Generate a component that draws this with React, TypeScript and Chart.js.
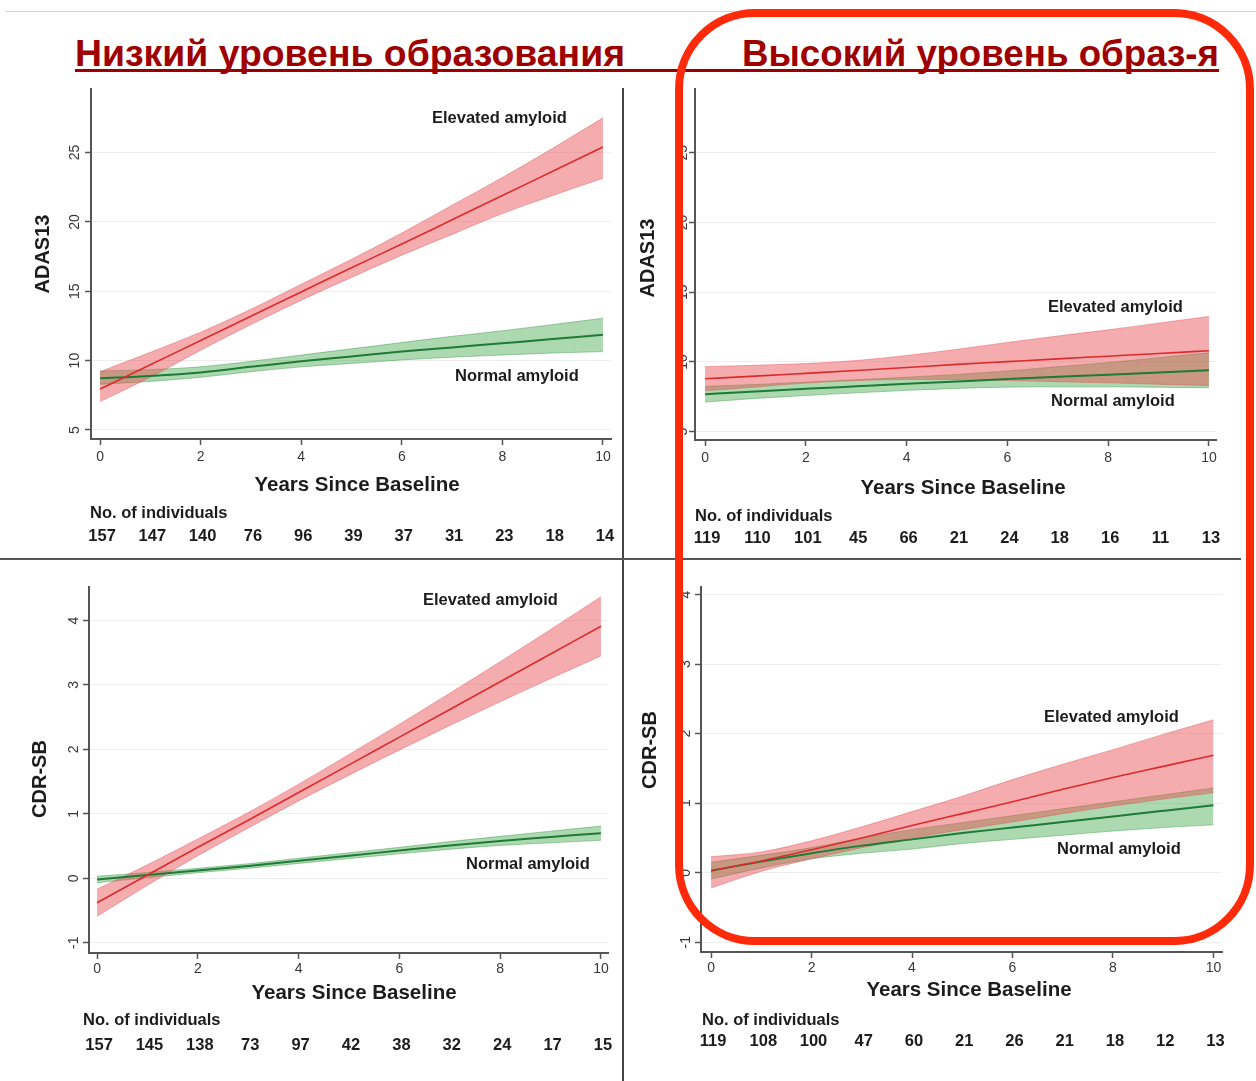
import React, { useEffect, useLayoutEffect, useRef } from 'react';
import { Chart, registerables } from 'chart.js';

Chart.register(...registerables);

// ---------------- DATA ----------------
const years = [0, 1, 2, 3, 4, 5, 6, 7, 8, 9, 10];
const xTickValues = [0, 2, 4, 6, 8, 10];
const adasTickValues = [5, 10, 15, 20, 25];
const cdrTickValues = [-1, 0, 1, 2, 3, 4];

const headingLow = 'Низкий уровень образования';
const headingHigh = 'Высокий уровень образ-я';
const elevLabel = 'Elevated amyloid';
const normLabel = 'Normal amyloid';
const xTitle = 'Years Since Baseline';
const countsTitle = 'No. of individuals';

// Top-left: ADAS13, low education
const adasLowElevMean = [7.95, 9.7, 11.45, 13.2, 14.95, 16.7, 18.4, 20.15, 21.9, 23.65, 25.4];
const adasLowElevUpper = [9.2, 10.6, 12.05, 13.7, 15.5, 17.3, 19.2, 21.2, 23.2, 25.3, 27.5];
const adasLowElevLower = [7.05, 8.8, 10.75, 12.6, 14.35, 16.0, 17.6, 19.1, 20.6, 21.9, 23.15];
const adasLowNormMean = [8.73, 8.9, 9.15, 9.55, 9.95, 10.3, 10.65, 10.95, 11.25, 11.55, 11.86];
const adasLowNormUpper = [9.25, 9.35, 9.55, 9.95, 10.4, 10.85, 11.3, 11.75, 12.15, 12.6, 13.05];
const adasLowNormLower = [8.3, 8.5, 8.8, 9.2, 9.55, 9.8, 10.05, 10.25, 10.4, 10.55, 10.65];
const adasLowCounts = [157, 147, 140, 76, 96, 39, 37, 31, 23, 18, 14];

// Top-right: ADAS13, high education
const adasHighElevMean = [8.79, 8.98, 9.18, 9.38, 9.6, 9.82, 10.02, 10.22, 10.41, 10.6, 10.8];
const adasHighElevUpper = [9.66, 9.76, 9.88, 10.1, 10.46, 10.9, 11.4, 11.86, 12.3, 12.78, 13.26];
const adasHighElevLower = [7.93, 8.2, 8.48, 8.66, 8.74, 8.74, 8.66, 8.58, 8.5, 8.4, 8.3];
const adasHighNormMean = [7.68, 7.88, 8.07, 8.25, 8.43, 8.6, 8.77, 8.93, 9.08, 9.24, 9.4];
const adasHighNormUpper = [8.24, 8.38, 8.55, 8.72, 8.9, 9.1, 9.35, 9.65, 9.95, 10.3, 10.65];
const adasHighNormLower = [7.12, 7.38, 7.59, 7.78, 7.96, 8.1, 8.19, 8.21, 8.21, 8.18, 8.15];
const adasHighCounts = [119, 110, 101, 45, 66, 21, 24, 18, 16, 11, 13];

// Bottom-left: CDR-SB, low education
const cdrLowElevMean = [-0.38, 0.05, 0.48, 0.9, 1.33, 1.76, 2.19, 2.62, 3.05, 3.48, 3.91];
const cdrLowElevUpper = [-0.17, 0.21, 0.61, 1.02, 1.46, 1.92, 2.39, 2.87, 3.36, 3.86, 4.37];
const cdrLowElevLower = [-0.59, -0.11, 0.35, 0.78, 1.2, 1.6, 1.99, 2.37, 2.74, 3.1, 3.45];
const cdrLowNormMean = [-0.02, 0.05, 0.12, 0.19, 0.27, 0.35, 0.43, 0.51, 0.58, 0.64, 0.7];
const cdrLowNormUpper = [0.03, 0.09, 0.155, 0.225, 0.31, 0.395, 0.48, 0.57, 0.65, 0.73, 0.81];
const cdrLowNormLower = [-0.07, 0.01, 0.085, 0.155, 0.23, 0.305, 0.38, 0.45, 0.51, 0.55, 0.59];
const cdrLowCounts = [157, 145, 138, 73, 97, 42, 38, 32, 24, 17, 15];

// Bottom-right: CDR-SB, high education
const cdrHighElevMean = [0.03, 0.17, 0.33, 0.5, 0.68, 0.85, 1.02, 1.2, 1.37, 1.53, 1.69];
const cdrHighElevUpper = [0.23, 0.3, 0.46, 0.66, 0.88, 1.1, 1.34, 1.56, 1.77, 1.99, 2.2];
const cdrHighElevLower = [-0.22, 0.02, 0.2, 0.36, 0.5, 0.62, 0.73, 0.85, 0.96, 1.06, 1.15];
const cdrHighNormMean = [0.03, 0.16, 0.28, 0.39, 0.48, 0.57, 0.65, 0.73, 0.81, 0.89, 0.97];
const cdrHighNormUpper = [0.15, 0.25, 0.36, 0.5, 0.62, 0.72, 0.82, 0.92, 1.02, 1.12, 1.22];
const cdrHighNormLower = [-0.09, 0.07, 0.2, 0.28, 0.34, 0.42, 0.48, 0.54, 0.6, 0.65, 0.69];
const cdrHighCounts = [119, 108, 100, 47, 60, 21, 26, 21, 18, 12, 13];

// ---------------- STYLE ----------------
const FONT = '"Liberation Sans", Arial, Helvetica, sans-serif';
const RED_LINE = '#DC2B2B';
const RED_EDGE = 'rgba(225, 80, 85, 0.55)';
const RED_FILL = 'rgba(232, 70, 75, 0.45)';
const GREEN_LINE = '#1E7A36';
const GREEN_EDGE = 'rgba(60, 150, 70, 0.55)';
const GREEN_FILL = 'rgba(60, 165, 70, 0.42)';
const AXIS_COLOR = '#555555';
const TEXT_COLOR = '#1c1c1c';
const TICK_TEXT = '#383838';
const HEAD_COLOR = '#9E0000';

type Series = {
  elevMean: number[]; elevUpper: number[]; elevLower: number[];
  normMean: number[]; normUpper: number[]; normLower: number[];
  counts: number[];
};

type PanelCfg = {
  id: string;
  box: { x: number; y: number; w: number; h: number };
  area: { l: number; t: number; r: number; b: number };
  xMin: number; xMax: number; yMin: number; yMax: number;
  yTicks: number[];
  yTickPad: number;
  xTickPad: number;
  yTitle: string;
  yTitlePos: [number, number];
  xTitlePos: [number, number];
  countsTitlePos: [number, number];
  countsY: number;
  elevPos: [number, number];
  normPos: [number, number];
  series: Series;
};

const panels: PanelCfg[] = [
  {
    id: 'tl',
    box: { x: 0, y: 80, w: 622, h: 478 },
    area: { l: 91, t: 89, r: 611, b: 439 },
    xMin: -0.18, xMax: 10.16, yMin: 4.35, yMax: 29.58,
    yTicks: adasTickValues, yTickPad: 2, xTickPad: 4,
    yTitle: 'ADAS13', yTitlePos: [43, 254],
    xTitlePos: [357, 485],
    countsTitlePos: [90, 513], countsY: 536,
    elevPos: [432, 118], normPos: [455, 376],
    series: {
      elevMean: adasLowElevMean, elevUpper: adasLowElevUpper, elevLower: adasLowElevLower,
      normMean: adasLowNormMean, normUpper: adasLowNormUpper, normLower: adasLowNormLower,
      counts: adasLowCounts,
    },
  },
  {
    id: 'tr',
    box: { x: 625, y: 80, w: 631, h: 478 },
    area: { l: 695, t: 89, r: 1216, b: 440 },
    xMin: -0.2, xMax: 10.14, yMin: 4.4, yMax: 29.57,
    yTicks: adasTickValues, yTickPad: -2, xTickPad: 4,
    yTitle: 'ADAS13', yTitlePos: [648, 258],
    xTitlePos: [963, 488],
    countsTitlePos: [695, 516], countsY: 538,
    elevPos: [1048, 307], normPos: [1051, 401],
    series: {
      elevMean: adasHighElevMean, elevUpper: adasHighElevUpper, elevLower: adasHighElevLower,
      normMean: adasHighNormMean, normUpper: adasHighNormUpper, normLower: adasHighNormLower,
      counts: adasHighCounts,
    },
  },
  {
    id: 'bl',
    box: { x: 0, y: 560, w: 622, h: 521 },
    area: { l: 89, t: 587, r: 608, b: 953 },
    xMin: -0.16, xMax: 10.14, yMin: -1.16, yMax: 4.52,
    yTicks: cdrTickValues, yTickPad: 3, xTickPad: 2,
    yTitle: 'CDR-SB', yTitlePos: [40, 779],
    xTitlePos: [354, 993],
    countsTitlePos: [83, 1020], countsY: 1045,
    elevPos: [423, 600], normPos: [466, 864],
    series: {
      elevMean: cdrLowElevMean, elevUpper: cdrLowElevUpper, elevLower: cdrLowElevLower,
      normMean: cdrLowNormMean, normUpper: cdrLowNormUpper, normLower: cdrLowNormLower,
      counts: cdrLowCounts,
    },
  },
  {
    id: 'br',
    box: { x: 625, y: 560, w: 631, h: 521 },
    area: { l: 701, t: 587, r: 1222, b: 952 },
    xMin: -0.2, xMax: 10.17, yMin: -1.14, yMax: 4.11,
    yTicks: cdrTickValues, yTickPad: 3, xTickPad: 2,
    yTitle: 'CDR-SB', yTitlePos: [650, 750],
    xTitlePos: [969, 990],
    countsTitlePos: [702, 1020], countsY: 1041,
    elevPos: [1044, 717], normPos: [1057, 849],
    series: {
      elevMean: cdrHighElevMean, elevUpper: cdrHighElevUpper, elevLower: cdrHighElevLower,
      normMean: cdrHighNormMean, normUpper: cdrHighNormUpper, normLower: cdrHighNormLower,
      counts: cdrHighCounts,
    },
  },
];

function pts(arr: number[]) {
  return years.map((x, i) => ({ x, y: arr[i] }));
}

function Panel({ p }: { p: PanelCfg }) {
  const ref = useRef<HTMLCanvasElement | null>(null);

  useEffect(() => {
    const canvas = ref.current;
    if (!canvas) return;
    const yWidth = p.area.l - p.box.x;
    const padT = p.area.t - p.box.y;
    const padR = p.box.x + p.box.w - p.area.r;
    const xHeight = p.box.y + p.box.h - p.area.b;
    const ox = p.box.x;
    const oy = p.box.y;
    const s = p.series;

    const textPlugin = {
      id: 'panelText_' + p.id,
      afterDraw(chart: any) {
        const ctx = chart.ctx as CanvasRenderingContext2D;
        const xs = chart.scales.x;
        ctx.save();
        ctx.fillStyle = TEXT_COLOR;
        ctx.textBaseline = 'middle';

        ctx.font = `bold 16.5px ${FONT}`;
        ctx.textAlign = 'left';
        ctx.fillText(elevLabel, p.elevPos[0] - ox, p.elevPos[1] - oy);
        ctx.fillText(normLabel, p.normPos[0] - ox, p.normPos[1] - oy);

        ctx.font = `bold 20.5px ${FONT}`;
        ctx.textAlign = 'center';
        ctx.fillText(xTitle, p.xTitlePos[0] - ox, p.xTitlePos[1] - oy);

        ctx.save();
        ctx.translate(p.yTitlePos[0] - ox, p.yTitlePos[1] - oy);
        ctx.rotate(-Math.PI / 2);
        ctx.font = `bold 20px ${FONT}`;
        ctx.textAlign = 'center';
        ctx.fillText(p.yTitle, 0, 0);
        ctx.restore();

        ctx.font = `bold 16.5px ${FONT}`;
        ctx.textAlign = 'left';
        ctx.fillText(countsTitle, p.countsTitlePos[0] - ox, p.countsTitlePos[1] - oy);

        ctx.textAlign = 'center';
        s.counts.forEach((n, i) => {
          ctx.fillText(String(n), xs.getPixelForValue(years[i]) + 2, p.countsY - oy);
        });
        ctx.restore();
      },
    };

    const edge = { pointRadius: 0, borderWidth: 0.8 };
    const chart = new Chart(canvas, {
      type: 'line',
      data: {
        datasets: [
          { data: pts(s.elevMean), borderColor: RED_LINE, borderWidth: 1.6, pointRadius: 0, fill: false },
          { data: pts(s.normMean), borderColor: GREEN_LINE, borderWidth: 2, pointRadius: 0, fill: false },
          { data: pts(s.elevLower), borderColor: RED_EDGE, ...edge, fill: false },
          { data: pts(s.elevUpper), borderColor: RED_EDGE, ...edge, fill: '-1', backgroundColor: RED_FILL },
          { data: pts(s.normLower), borderColor: GREEN_EDGE, ...edge, fill: false },
          { data: pts(s.normUpper), borderColor: GREEN_EDGE, ...edge, fill: '-1', backgroundColor: GREEN_FILL },
        ] as any,
      },
      options: {
        responsive: false,
        animation: false,
        events: [],
        layout: { padding: { left: 0, top: padT, right: padR, bottom: 0 } },
        elements: { line: { cubicInterpolationMode: 'monotone' } },
        plugins: {
          legend: { display: false },
          tooltip: { enabled: false },
          filler: { propagate: false },
        },
        scales: {
          x: {
            type: 'linear',
            min: p.xMin,
            max: p.xMax,
            afterBuildTicks: (sc: any) => { sc.ticks = xTickValues.map((v) => ({ value: v })); },
            afterFit: (sc: any) => {
              sc.height = xHeight;
              sc.paddingLeft = 0; sc.paddingRight = 0; sc.paddingTop = 0; sc.paddingBottom = 0;
            },
            ticks: {
              font: { family: FONT, size: 14 },
              color: TICK_TEXT,
              padding: p.xTickPad,
              maxRotation: 0,
              minRotation: 0,
              autoSkip: false,
            },
            grid: { display: true, drawOnChartArea: false, drawTicks: true, tickLength: 6, tickColor: AXIS_COLOR, tickWidth: 1.5 },
            border: { display: true, color: AXIS_COLOR, width: 2 },
          },
          y: {
            type: 'linear',
            min: p.yMin,
            max: p.yMax,
            afterBuildTicks: (sc: any) => { sc.ticks = p.yTicks.map((v) => ({ value: v })); },
            afterFit: (sc: any) => {
              sc.width = yWidth;
              sc.paddingLeft = 0; sc.paddingRight = 0; sc.paddingTop = 0; sc.paddingBottom = 0;
            },
            ticks: {
              font: { family: FONT, size: 14 },
              color: TICK_TEXT,
              padding: p.yTickPad,
              minRotation: 90,
              maxRotation: 90,
              crossAlign: 'center',
              autoSkip: false,
            },
            grid: { display: true, drawOnChartArea: true, color: '#EEEEEE', lineWidth: 1, drawTicks: true, tickLength: 6, tickColor: AXIS_COLOR, tickWidth: 1.5 },
            border: { display: true, color: AXIS_COLOR, width: 2 },
          },
        },
      } as any,
      plugins: [textPlugin as any],
    });
    return () => chart.destroy();
  }, [p]);

  return (
    <canvas
      ref={ref}
      width={p.box.w}
      height={p.box.h}
      style={{ position: 'absolute', left: p.box.x, top: p.box.y, width: p.box.w, height: p.box.h }}
    />
  );
}

function FitText({ text, left, top, width, size }: { text: string; left: number; top: number; width: number; size: number }) {
  const ref = useRef<HTMLSpanElement | null>(null);
  useLayoutEffect(() => {
    const el = ref.current;
    if (!el) return;
    el.style.transform = 'none';
    const w = el.getBoundingClientRect().width;
    if (w > 0) el.style.transform = `scaleX(${width / w})`;
  }, [text, width]);
  return (
    <span
      ref={ref}
      style={{
        position: 'absolute', left, top, whiteSpace: 'nowrap', transformOrigin: '0 0',
        fontFamily: FONT, fontWeight: 700, fontSize: size, lineHeight: 1, color: HEAD_COLOR,
      }}
    >
      {text}
    </span>
  );
}

export default function App() {
  return (
    <div style={{ position: 'fixed', left: 0, top: 0, width: 1256, height: 1081, background: '#ffffff', overflow: 'hidden' }}>
      <div style={{ position: 'absolute', left: 5, top: 11, width: 1251, height: 1, background: '#d2d2d2' }} />
      <FitText text={headingLow} left={75} top={36} width={550} size={36} />
      <FitText text={headingHigh} left={742} top={36} width={477} size={36} />
      <div style={{ position: 'absolute', left: 75, top: 69, width: 1144, height: 3, background: HEAD_COLOR }} />
      {panels.map((p) => (
        <Panel key={p.id} p={p} />
      ))}
      <div style={{ position: 'absolute', left: 622, top: 88, width: 2, height: 993, background: '#444' }} />
      <div style={{ position: 'absolute', left: 0, top: 558, width: 1241, height: 2, background: '#555' }} />
      <div
        style={{
          position: 'absolute', left: 675, top: 9, width: 579, height: 936, boxSizing: 'border-box',
          border: '8px solid #FF2A0A', borderRadius: 80, zIndex: 10, pointerEvents: 'none',
        }}
      />
    </div>
  );
}
